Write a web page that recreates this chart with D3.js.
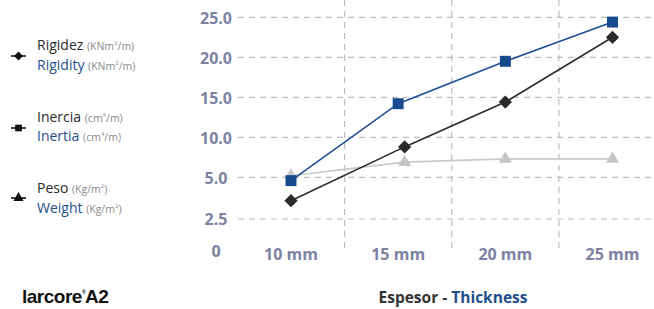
<!DOCTYPE html>
<html><head><meta charset="utf-8">
<script src="https://cdn.jsdelivr.net/npm/d3@7"></script>
<style>
html,body{margin:0;padding:0;background:#fff;}
svg{display:block;}
</style></head>
<body>
<svg id="chart" width="654" height="309"></svg>
<script>
// ---- data ----
const categories = [10, 15, 20, 25];
const categoryLabels = ["10 mm", "15 mm", "20 mm", "25 mm"];
const yTicks = [0, 2.5, 5, 10, 15, 20, 25];
const yTickLabels = ["0", "2.5", "5.0", "10.0", "15.0", "20.0", "25.0"];
const rigidezX = [10, 15.3, 20, 25];
const rigidez = [3.6, 8.8, 14.4, 22.5];
const inerciaX = [10, 15, 20, 25];
const inercia = [4.8, 14.2, 19.5, 24.4];
const pesoX = [10, 15.3, 20, 25];
const peso = [5.2, 6.9, 7.3, 7.3];

const svg = d3.select("#chart");
const x = d3.scaleLinear().domain([10, 25]).range([291, 612.5]);
const y = d3.scaleLinear().domain([0, 2.5, 5, 25]).range([251, 219, 177.3, 17.3]);

const grid = "#bdbdbd";
// horizontal gridlines
svg.append("g").selectAll("line").data(yTicks.filter(d => d > 0)).join("line")
  .attr("x1", 238).attr("x2", 654)
  .attr("y1", d => y(d)).attr("y2", d => y(d))
  .attr("stroke", grid).attr("stroke-width", 1.2).attr("stroke-dasharray", "6,5");
// vertical gridlines between categories
const mids = d3.pairs(categories).map(([a, b]) => (a + b) / 2);
svg.append("g").selectAll("line").data(mids).join("line")
  .attr("x1", d => x(d)).attr("x2", d => x(d))
  .attr("y1", 0).attr("y2", 250)
  .attr("stroke", grid).attr("stroke-width", 1.2).attr("stroke-dasharray", "6,5");

const axisColor = "#7b82a2";
// y labels
svg.append("g").selectAll("text").data(yTicks).join("text")
  .attr("x", 216).attr("y", d => y(d) + 6.3)
  .attr("text-anchor", "middle")
  .attr("font-family", "'Open Sans', sans-serif").attr("font-weight", "bold")
  .attr("font-size", 16).attr("fill", axisColor)
  .text((d, i) => yTickLabels[i]);
// x labels
svg.append("g").selectAll("text").data(categories).join("text")
  .attr("x", d => x(d)).attr("y", 260)
  .attr("text-anchor", "middle")
  .attr("font-family", "'Open Sans', sans-serif").attr("font-weight", "bold")
  .attr("font-size", 16).attr("fill", axisColor)
  .text((d, i) => categoryLabels[i]);

// series
function series(xs, ys, color, lineColor, symbol, size, rot) {
  const pts = xs.map((v, i) => [x(v), y(ys[i])]);
  svg.append("path").attr("d", d3.line()(pts))
    .attr("fill", "none").attr("stroke", lineColor).attr("stroke-width", 1.6);
  svg.append("g").selectAll("path").data(pts).join("path")
    .attr("transform", d => `translate(${d[0]},${d[1]}) rotate(${rot})`)
    .attr("d", d3.symbol().type(symbol).size(size))
    .attr("fill", color);
}
series(pesoX, peso, "#c5c7c7", "#c8caca", d3.symbolTriangle, 75, 0);
series(rigidezX, rigidez, "#2b2b2b", "#2b2b2b", d3.symbolSquare, 88, 45);
series(inerciaX, inercia, "#174a8c", "#1f4f94", d3.symbolSquare, 120, 0);

// legend
const legend = [
  {es: "Rigidez", en: "Rigidity", unit: ["(KNm", "2", "/m)"], sym: d3.symbolSquare, rot: 45, my: 56, y1: 50, y2: 70, sz: 40},
  {es: "Inercia", en: "Inertia", unit: ["(cm", "4", "/m)"], sym: d3.symbolSquare, rot: 0, my: 128, y1: 122, y2: 141, sz: 45},
  {es: "Peso", en: "Weight", unit: ["(Kg/m", "2", ")"], sym: d3.symbolTriangle, rot: 0, my: 198, y1: 193, y2: 213, sz: 45}
];
const lg = svg.append("g");
legend.forEach(l => {
  lg.append("line").attr("x1", 11).attr("x2", 26).attr("y1", l.my).attr("y2", l.my)
    .attr("stroke", "#111").attr("stroke-width", 1.6);
  lg.append("path").attr("transform", `translate(18.5,${l.my}) rotate(${l.rot})`)
    .attr("d", d3.symbol().type(l.sym).size(l.sz)).attr("fill", "#111");
  [[l.es, l.y1, "#2a2a2a"], [l.en, l.y2, "#1f4e8c"]].forEach(([txt, yy, col]) => {
    const t = lg.append("text").attr("x", 37).attr("y", yy)
      .attr("font-family", "'Open Sans', sans-serif").attr("font-size", 14).attr("fill", col);
    t.append("tspan").text(txt + " ");
    const u = t.append("tspan").attr("font-size", 10.5).attr("fill", "#8a8a8a");
    u.append("tspan").text(l.unit[0]);
    u.append("tspan").attr("font-size", 6).attr("dy", -5).text(l.unit[1]);
    u.append("tspan").attr("dy", 5).text(l.unit[2]);
  });
});

// footer
const brand = svg.append("text").attr("x", 22).attr("y", 303)
  .attr("font-family", "'Liberation Sans', Arial, sans-serif").attr("font-weight", "bold")
  .attr("font-size", 19).attr("fill", "#111").attr("letter-spacing", -0.5);
brand.append("tspan").text("larcore");
brand.append("tspan").attr("font-size", 5).attr("dy", -9).text("®");
brand.append("tspan").attr("dy", 9).text("A2");

const title = svg.append("text").attr("x", 453).attr("y", 303).attr("text-anchor", "middle")
  .attr("font-family", "'Open Sans', sans-serif").attr("font-weight", "bold")
  .attr("font-size", 15.5);
title.append("tspan").attr("fill", "#333").text("Espesor - ");
title.append("tspan").attr("fill", "#1f4e8c").text("Thickness");
</script>
</body></html>
